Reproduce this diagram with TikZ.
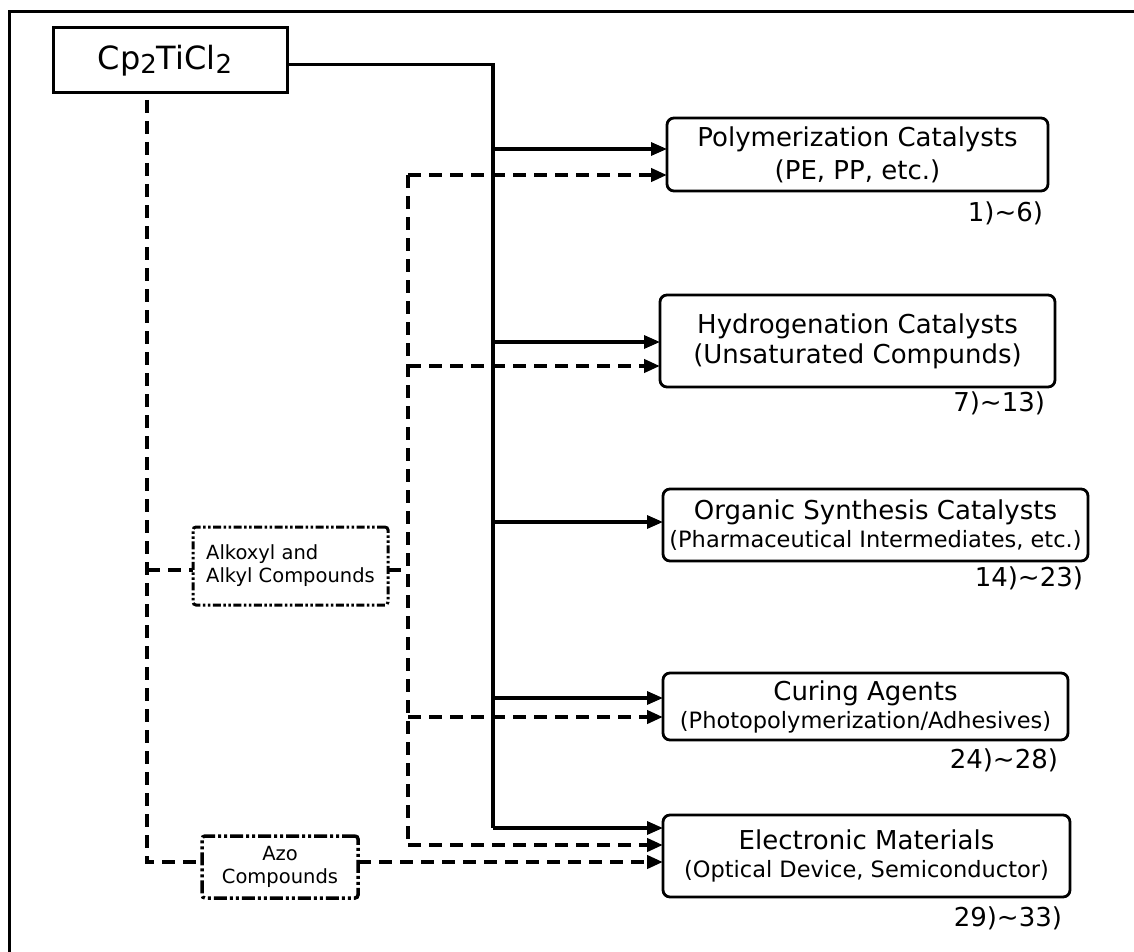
\documentclass[tikz,border=0pt]{standalone}
\usepackage{fontspec}
\setmainfont{DejaVu Sans}
\usetikzlibrary{arrows.meta}
\begin{document}
\begin{tikzpicture}[x=1pt,y=-1pt,
  every node/.style={inner sep=0pt, outer sep=0pt},
  target/.style={draw, line width=2.8pt, rounded corners=7pt, align=center, anchor=north west,
    font=\fontsize{26}{30}\selectfont},
  refno/.style={anchor=east, font=\fontsize{26}{30}\selectfont},
  conn/.style={line width=3.2pt},
  arr/.style={line width=3.2pt, -{Triangle[length=16pt,width=13pt]}},
  dsh/.style={line width=4pt, dash pattern=on 13pt off 8pt},
  darr/.style={line width=4pt, dash pattern=on 13pt off 8pt, -{Triangle[length=16pt,width=13pt]}},
  interbox/.style={draw, line width=3pt, rounded corners=3pt, anchor=north west, align=left,
    font=\fontsize{19.5}{23}\selectfont},
]
\useasboundingbox (0,0) rectangle (1134,952);
% frame
\draw[line width=3pt] (9,960) -- (9,12) -- (1140,12);

% source
\node[draw, line width=3pt, anchor=north west, minimum width=234pt, minimum height=65pt,
  font=\fontsize{32}{34}\selectfont] (cp) at (53,28)
  {Cp{\fontsize{26}{26}\selectfont\raisebox{-4pt}{2}}TiCl{\fontsize{26}{26}\selectfont\raisebox{-4pt}{2}}\hspace*{10pt}};

% targets
\node[target, minimum width=381pt, minimum height=73pt] (poly) at (667,118)
  {Polymerization Catalysts\\[3pt](PE, PP, etc.)};
\node[target, minimum width=395pt, minimum height=92pt] (hydro) at (660,295)
  {Hydrogenation Catalysts\\(Unsaturated Compunds)};
\node[target, minimum width=425pt, minimum height=72pt] (org) at (663,489)
  {Organic Synthesis Catalysts\\[-2pt]{\fontsize{22.5}{28}\selectfont (Pharmaceutical Intermediates, etc.)}};
\node[target, minimum width=405pt, minimum height=67pt] (cur) at (663,673)
  {Curing Agents\\[-2pt]{\fontsize{22.5}{28}\selectfont (Photopolymerization/Adhesives)}};
\node[target, minimum width=407pt, minimum height=82pt] (elec) at (663,815)
  {Electronic Materials\\[-2pt]{\fontsize{22.5}{28}\selectfont (Optical Device, Semiconductor)}};

% reference numbers
\node[refno] (r1) at (1043,213) {1)\textasciitilde 6)};
\node[refno] (r2) at (1045,403) {7)\textasciitilde 13)};
\node[refno] (r3) at (1083,578) {14)\textasciitilde 23)};
\node[refno] (r4) at (1058,760) {24)\textasciitilde 28)};
\node[refno] (r5) at (1062,918) {29)\textasciitilde 33)};

% intermediates
\node[interbox, dash pattern=on 8pt off 2.5pt on 2.5pt off 2.5pt on 2.5pt off 2.5pt,
  minimum width=195pt, minimum height=78pt] (alk) at (193,527)
  {Alkoxyl and\\Alkyl Compounds};
\node[interbox, align=center, line width=3.5pt,
  dash pattern=on 13pt off 3pt on 3pt off 3pt on 3pt off 3pt,
  minimum width=156pt, minimum height=62pt] (azo) at (202,836)
  {Azo\\Compounds};

% junction coordinates
\coordinate (tb) at (493,828);
\coordinate (t1) at (493,149);
\coordinate (t2) at (493,342);
\coordinate (t3) at (493,522);
\coordinate (t4) at (493,698);
\coordinate (L0) at (147,100);
\coordinate (L1) at (147,570);
\coordinate (L2) at (147,862);
\coordinate (M0) at (408,175);
\coordinate (M1) at (408,570);
\coordinate (M2) at (408,366);
\coordinate (M3) at (408,717);
\coordinate (M4) at (408,845);

% solid trunk
\draw[conn] ([yshift=-4pt]cp.east) -| (tb);
\draw[arr] (t1) -- (t1 -| poly.west);
\draw[arr] (t2) -- (t2 -| hydro.west);
\draw[arr] (t3) -- (t3 -| org.west);
\draw[arr] (t4) -- (t4 -| cur.west);
\draw[arr] (tb) -- (tb -| elec.west);

% dashed from source
\draw[dsh] (L0) -- (L2) -- (L2 -| azo.west);
\draw[dsh] (L1) -- (L1 -| alk.west);
\draw[dsh] (L1 -| alk.east) -- (M1);
\draw[dsh] (M0) -- (M4);
\draw[darr] (M0) -- (M0 -| poly.west);
\draw[darr] (M2) -- (M2 -| hydro.west);
\draw[darr] (M3) -- (M3 -| cur.west);
\draw[darr] (M4) -- (M4 -| elec.west);
\draw[darr] (L2 -| azo.east) -- (L2 -| elec.west);
\end{tikzpicture}
\end{document}
